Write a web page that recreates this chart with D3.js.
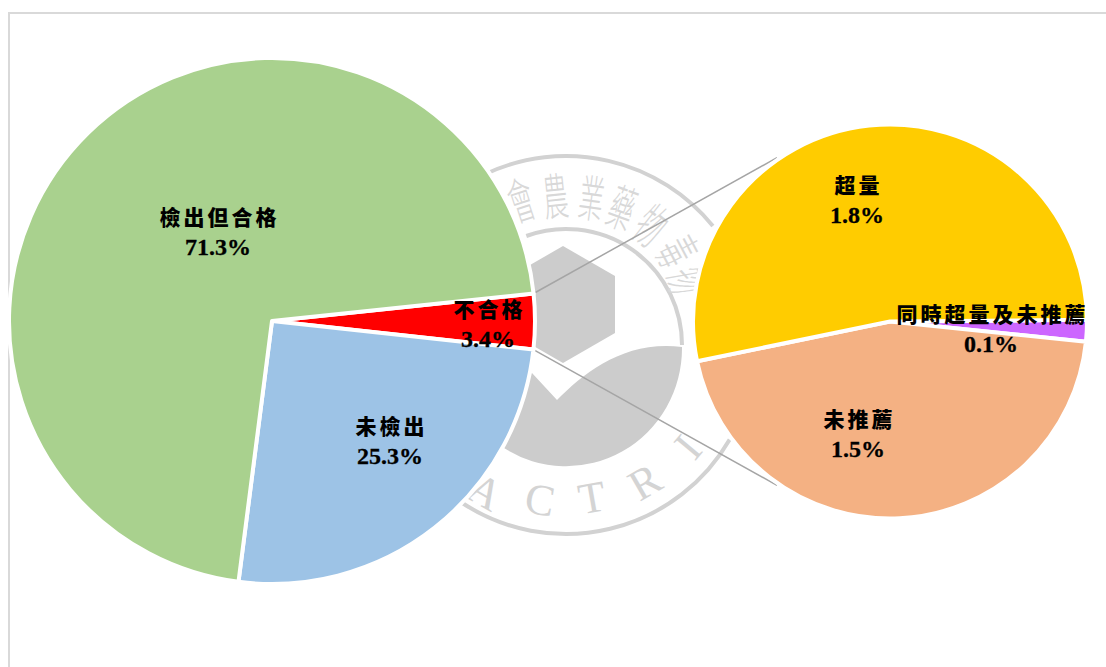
<!DOCTYPE html>
<html>
<head>
<meta charset="utf-8">
<title>pie of pie</title>
<script src="https://cdn.jsdelivr.net/npm/d3@7"></script>
<style>
  html, body { margin: 0; padding: 0; background: #fff; overflow: hidden; }
  text.name { font-family: "Noto Sans CJK TC", serif; font-weight: 900; font-size: 21px; letter-spacing: 3px; fill: #000; text-anchor: middle; }
  text.pct { font-family: "Liberation Serif", serif; font-weight: 700; font-size: 24px; fill: #000; stroke: #000; stroke-width: 0.3px; text-anchor: middle; }
  .mark { fill: #ccc; }
  .ring { fill: none; stroke: #d2d2d2; stroke-width: 4px; }
  .wm-zh { font-family: "Noto Sans CJK TC", sans-serif; font-weight: 300; font-size: 50px; fill: #d8d8d8; text-anchor: middle; dominant-baseline: central; }
  .wm-en { font-family: "Liberation Serif", serif; font-size: 44px; fill: #d4d4d4; text-anchor: middle; dominant-baseline: central; }
</style>
</head>
<body>
<svg id="chart" width="1106" height="667"></svg>
<script>
var mainNames = ['不合格', '未檢出', '檢出但合格'];
var mainValues = [3.4, 25.3, 71.3];
var mainColors = ['#ff0000', '#9dc3e6', '#a9d18e'];

var detailNames = ['同時超量及未推薦', '未推薦', '超量'];
var detailValues = [0.06, 1.53, 1.8];
var detailColors = ['#cc66ff', '#f4b183', '#ffcc00'];

var svg = d3.select('#chart');
var rad = Math.PI / 180;

// chart frame, runs off the right and bottom of the page
svg.append('path')
  .attr('d', 'M9,667V13H1106')
  .attr('fill', 'none')
  .attr('stroke', '#d9d9d9')
  .attr('stroke-width', 2);

// --- watermark logo behind the pies ---
var logo = svg.append('g');
var lx = 566, ly = 345;

function ring(r, a0, a1) {
  return d3.arc().innerRadius(r).outerRadius(r).startAngle(a0 * rad).endAngle(a1 * rad)();
}
logo.append('path').attr('class', 'ring').attr('transform', `translate(${lx},${ly})`).attr('d', ring(189, -25, 51));
logo.append('path').attr('class', 'ring').attr('transform', `translate(${lx},${ly})`).attr('d', ring(189, 120, 213));
logo.append('path').attr('class', 'ring').attr('transform', `translate(${lx},${ly})`).attr('d', ring(116, -20, 90));

logo.append('path').attr('class', 'mark')
  .attr('d', 'M563,246L615,276V333L563,363L511,333V276Z');
logo.append('path').attr('class', 'mark')
  .attr('d', 'M682,347A116,118 0 0 1 504,448L480,400L532,373L557,400C585,372 625,340 682,347Z');

var zhChars = [['會', 520, 197, -18], ['農', 555, 193, -6], ['業', 592, 195, 8], ['藥', 623, 205, 20], ['物', 653, 223, 38], ['毒', 680, 250, 62], ['物', 692, 280, 80]];
zhChars.forEach(function(c) {
  logo.append('text').attr('class', 'wm-zh')
    .attr('transform', `translate(${c[1]},${c[2]}) rotate(${c[3]}) scale(0.5,1)`)
    .text(c[0]);
});

var enChars = [['A', 485, 492, 30], ['C', 540, 500, 10], ['T', 592, 498, -10], ['R', 645, 482, -30], ['I', 688, 447, -50]];
enChars.forEach(function(c) {
  logo.append('text').attr('class', 'wm-en')
    .attr('transform', `translate(${c[1]},${c[2]}) rotate(${c[3]})`)
    .text(c[0]);
});

// --- pies ---
var mainCenter = [272, 321], mainR = 263;
var detailCenter = [890, 321.5], detailR = 197;

var mainPie = d3.pie().sort(null).startAngle(84 * rad).endAngle((360 + 84) * rad);
var detailPie = d3.pie().sort(null).startAngle(89.5 * rad).endAngle((360 + 89.5) * rad);

var mainSlices = mainPie(mainValues);
var detailSlices = detailPie(detailValues);

// connector lines from the red slice edges to the second pie
var red = mainSlices[0];
var connectAngle = 34.6 * rad;
[[red.startAngle, -1], [red.endAngle, 1]].forEach(function(e) {
  svg.append('line')
    .attr('x1', mainCenter[0] + mainR * Math.sin(e[0]))
    .attr('y1', mainCenter[1] - mainR * Math.cos(e[0]))
    .attr('x2', detailCenter[0] - (detailR + 2) * Math.sin(connectAngle))
    .attr('y2', detailCenter[1] + e[1] * (detailR + 2) * Math.cos(connectAngle))
    .attr('stroke', '#a5a5a5')
    .attr('stroke-width', 1.5);
});

function drawPie(slices, center, r, colors) {
  var arc = d3.arc().innerRadius(0).outerRadius(r);
  svg.append('g')
    .attr('transform', `translate(${center[0]},${center[1]})`)
    .selectAll('path')
    .data(slices)
    .enter()
    .append('path')
    .attr('d', arc)
    .attr('fill', (d, i) => colors[i])
    .attr('stroke', '#fff')
    .attr('stroke-width', 4)
    .attr('stroke-linejoin', 'round');
}
drawPie(mainSlices, mainCenter, mainR, mainColors);
drawPie(detailSlices, detailCenter, detailR, detailColors);

// --- labels ---
var mainLabelPos = [[488, 310], [390, 427], [218, 218]];
var detailLabelPos = [[991, 315], [858, 420], [857, 186]];

function drawLabels(names, values, pos) {
  names.forEach(function(n, i) {
    svg.append('text').attr('class', 'name')
      .attr('x', pos[i][0] + 1.5).attr('y', pos[i][1] + 7)
      .text(n);
    svg.append('text').attr('class', 'pct')
      .attr('x', pos[i][0]).attr('y', pos[i][1] + 37)
      .text(values[i].toFixed(1) + '%');
  });
}
drawLabels(mainNames, mainValues, mainLabelPos);
drawLabels(detailNames, detailValues, detailLabelPos);
</script>
</body>
</html>
